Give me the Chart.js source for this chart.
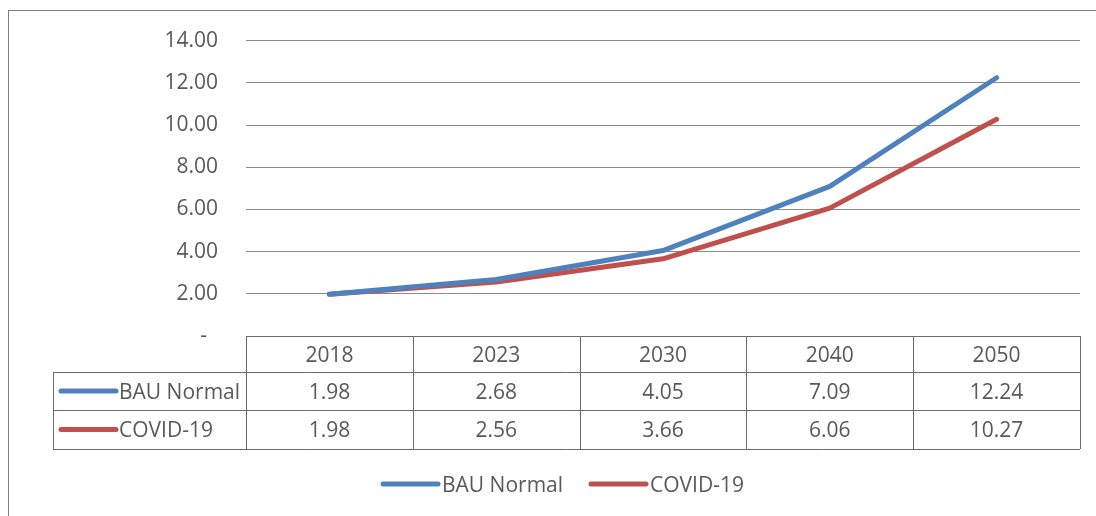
<!DOCTYPE html>
<html>
<head>
<meta charset="utf-8">
<script src="https://cdn.jsdelivr.net/npm/chart.js@4.4.0/dist/chart.umd.min.js"></script>
<style>
  html, body { margin: 0; padding: 0; background: #fff; }
  #wrap { position: relative; width: 1096px; height: 516px; }
</style>
</head>
<body>
<div id="wrap"><canvas id="chart"></canvas></div>
<script>
const years = ["2018", "2023", "2030", "2040", "2050"];
const bauNormal = [1.98, 2.68, 4.05, 7.09, 12.24];
const covid19 = [1.98, 2.56, 3.66, 6.06, 10.27];
const seriesNames = ["BAU Normal", "COVID-19"];
const seriesColors = ["#4f81bd", "#c0504d"];

const FONT = "21px 'Open Sans'";
const TEXT = "#595959";
const TEXT_SHIFT = 2; // Open Sans sits a bit high with baseline "middle"

function legendKey(ctx, x, y, color) {
  ctx.save();
  ctx.strokeStyle = color;
  ctx.lineWidth = 5;
  ctx.lineCap = "round";
  ctx.beginPath();
  ctx.moveTo(x, y);
  ctx.lineTo(x + 55, y);
  ctx.stroke();
  ctx.restore();
}

const dataTable = {
  id: "dataTable",
  afterDraw(chart) {
    const ctx = chart.ctx;
    const area = chart.chartArea;
    const x = chart.scales.x;
    const n = years.length;
    const colW = (area.right - area.left) / n;
    const rows = [area.bottom, area.bottom + 36, area.bottom + 74, area.bottom + 113];
    const labelLeft = 53;

    ctx.save();
    ctx.strokeStyle = "#6b6b6b";
    ctx.lineWidth = 1;
    ctx.beginPath();
    // header row top
    ctx.moveTo(area.left, rows[0] + 0.5);
    ctx.lineTo(area.right, rows[0] + 0.5);
    for (let r = 1; r < rows.length; r++) {
      ctx.moveTo(labelLeft, Math.round(rows[r]) + 0.5);
      ctx.lineTo(area.right, Math.round(rows[r]) + 0.5);
    }
    for (let i = 0; i <= n; i++) {
      const cx = Math.round(area.left + i * colW) + 0.5;
      ctx.moveTo(cx, rows[0]);
      ctx.lineTo(cx, rows[3]);
    }
    ctx.moveTo(labelLeft + 0.5, rows[1]);
    ctx.lineTo(labelLeft + 0.5, rows[3]);
    ctx.stroke();

    ctx.font = FONT;
    ctx.fillStyle = TEXT;
    ctx.textAlign = "center";
    ctx.textBaseline = "middle";
    const values = [bauNormal, covid19];
    years.forEach((yr, i) => {
      const cx = x.getPixelForValue(i);
      ctx.fillText(yr, cx, (rows[0] + rows[1]) / 2 + TEXT_SHIFT);
      values.forEach((vals, s) => {
        ctx.fillText(vals[i].toFixed(2), cx, (rows[s + 1] + rows[s + 2]) / 2 + TEXT_SHIFT);
      });
    });

    ctx.textAlign = "left";
    seriesNames.forEach((name, s) => {
      const cy = (rows[s + 1] + rows[s + 2]) / 2;
      legendKey(ctx, 61, cy, seriesColors[s]);
      ctx.fillText(name, 119, cy + TEXT_SHIFT);
    });

    // bottom legend
    const legendY = 484;
    const legendX = [383, 591];
    seriesNames.forEach((name, s) => {
      legendKey(ctx, legendX[s], legendY, seriesColors[s]);
      ctx.fillText(name, legendX[s] + 59, legendY + TEXT_SHIFT);
    });

    // chart frame
    ctx.strokeStyle = "#7f7f7f";
    ctx.strokeRect(8.5, 10.5, 1100, 520);
    ctx.restore();
  }
};

new Chart(document.getElementById("chart"), {
  type: "line",
  data: {
    labels: years,
    datasets: [
      {
        label: seriesNames[0],
        data: bauNormal,
        borderColor: seriesColors[0],
        backgroundColor: seriesColors[0],
        borderWidth: 5,
        borderCapStyle: "round",
        borderJoinStyle: "round",
        pointRadius: 0,
        tension: 0
      },
      {
        label: seriesNames[1],
        data: covid19,
        borderColor: seriesColors[1],
        backgroundColor: seriesColors[1],
        borderWidth: 5,
        borderCapStyle: "round",
        borderJoinStyle: "round",
        pointRadius: 0,
        tension: 0
      }
    ]
  },
  options: {
    responsive: true,
    maintainAspectRatio: false,
    animation: false,
    layout: {
      padding: { left: 0, top: 40, right: 16, bottom: 180 }
    },
    plugins: {
      legend: { display: false },
      tooltip: { enabled: false },
      title: { display: false }
    },
    scales: {
      x: {
        display: false,
        offset: true
      },
      y: {
        min: 0,
        max: 14,
        afterFit(scale) {
          scale.width = 246;
        },
        border: { display: false },
        grid: {
          color: "#8c8c8c",
          lineWidth: 1,
          drawTicks: false
        },
        ticks: {
          stepSize: 2,
          padding: 28,
          color: TEXT,
          font: { family: "'Open Sans'", size: 21 },
          callback: (v) => (v === 0 ? "-  " : v.toFixed(2))
        }
      }
    }
  },
  plugins: [dataTable]
});
</script>
</body>
</html>
